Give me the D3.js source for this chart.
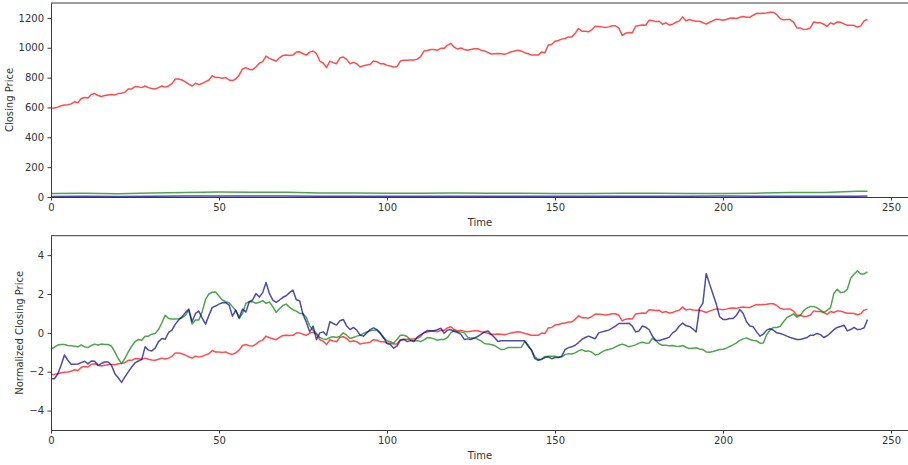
<!DOCTYPE html>
<html>
<head>
<meta charset="utf-8">
<script src="https://cdn.jsdelivr.net/npm/d3@7"></script>
<style>
  body { margin: 0; background: #fff; }
  svg text { font-family: "DejaVu Sans", sans-serif; }
</style>
</head>
<body>
<div id="chart"></div>
<script>
// DATA (one value per time step 0..243)

// Closing price of the first stock (red, top panel)
var topRed = [
  596, 596, 602, 611, 616, 618, 624, 638, 631, 660,
  667, 664, 687, 693, 680, 673, 680, 684, 687, 684,
  693, 696, 702, 724, 724, 740, 738, 733, 744, 733,
  727, 724, 733, 744, 736, 744, 760, 791, 791, 784,
  771, 756, 744, 762, 753, 760, 773, 784, 813, 800,
  800, 796, 800, 784, 780, 791, 816, 858, 867, 856,
  853, 871, 896, 907, 944, 929, 920, 911, 933, 949,
  951, 949, 951, 971, 973, 960, 951, 971, 978, 962,
  911, 898, 867, 911, 900, 893, 933, 938, 922, 893,
  902, 893, 871, 880, 884, 889, 911, 907, 893, 893,
  882, 878, 871, 873, 911, 916, 916, 918, 918, 924,
  940, 978, 982, 989, 989, 984, 996, 996, 1018, 1029,
  1004, 991, 998, 989, 984, 989, 993, 993, 984, 978,
  969, 958, 960, 962, 960, 956, 964, 973, 978, 984,
  978, 967, 960, 951, 951, 951, 971, 967, 1018, 1022,
  1044, 1049, 1058, 1062, 1073, 1073, 1096, 1129, 1111, 1111,
  1107, 1122, 1144, 1142, 1140, 1136, 1140, 1147, 1147, 1133,
  1082, 1098, 1102, 1100, 1144, 1149, 1153, 1151, 1184, 1182,
  1176, 1178, 1158, 1167, 1153, 1158, 1171, 1180, 1207, 1180,
  1189, 1182, 1178, 1178, 1169, 1158, 1171, 1182, 1191, 1189,
  1184, 1189, 1198, 1200, 1196, 1204, 1209, 1204, 1204, 1218,
  1231, 1229, 1231, 1233, 1238, 1238, 1222, 1196, 1187, 1189,
  1189, 1171, 1133, 1133, 1122, 1124, 1133, 1173, 1167, 1167,
  1158, 1142, 1167, 1158, 1173, 1171, 1160, 1151, 1151, 1149,
  1138, 1147, 1180, 1189
];

// Normalized closing price of the second stock (green, bottom panel)
var normGreen = [
  -0.83, -0.74, -0.63, -0.60, -0.60, -0.65, -0.67, -0.69, -0.72, -0.62,
  -0.72, -0.76, -0.65, -0.58, -0.63, -0.58, -0.60, -0.60, -0.69, -0.98,
  -1.32, -1.58, -1.32, -0.98, -0.69, -0.46, -0.34, -0.38, -0.17, -0.17,
  -0.07, -0.03, 0.17, 0.52, 0.91, 0.74, 0.71, 0.71, 0.73, 0.78,
  0.90, 1.17, 0.45, 0.66, 0.66, 1.09, 1.72, 2.00, 2.09, 2.10,
  1.90, 1.69, 1.60, 1.55, 1.35, 1.14, 0.74, 1.00, 1.52, 1.60,
  1.60, 1.52, 1.57, 1.66, 1.52, 1.59, 1.35, 1.05, 1.24, 1.41,
  1.48, 1.31, 1.19, 1.12, 1.00, 1.00, 0.79, 0.36, 0.14, -0.03,
  -0.24, -0.31, -0.34, -0.24, -0.20, -0.24, -0.17, 0.00, -0.12, -0.29,
  -0.24, -0.17, -0.12, -0.03, 0.05, 0.11, 0.14, 0.14, -0.05, -0.26,
  -0.41, -0.46, -0.53, -0.33, -0.12, -0.12, -0.19, -0.38, -0.41, -0.40,
  -0.45, -0.36, -0.24, -0.26, -0.31, -0.38, -0.34, -0.34, -0.24, 0.00,
  0.14, 0.05, 0.05, 0.00, -0.22, -0.27, -0.26, -0.33, -0.41, -0.55,
  -0.58, -0.60, -0.65, -0.76, -0.86, -0.84, -0.76, -0.76, -0.76, -0.76,
  -0.74, -0.45, -0.63, -0.89, -1.24, -1.37, -1.34, -1.22, -1.20, -1.20,
  -1.20, -1.26, -1.24, -1.12, -1.07, -1.09, -1.03, -0.93, -0.86, -0.95,
  -0.93, -1.00, -1.14, -1.10, -0.98, -0.89, -0.86, -0.81, -0.72, -0.64,
  -0.58, -0.64, -0.72, -0.67, -0.62, -0.53, -0.48, -0.53, -0.52, -0.28,
  -0.41, -0.57, -0.64, -0.64, -0.67, -0.65, -0.69, -0.70, -0.65, -0.74,
  -0.81, -0.79, -0.77, -0.83, -0.86, -0.98, -1.00, -0.96, -0.91, -0.86,
  -0.84, -0.79, -0.70, -0.62, -0.52, -0.39, -0.31, -0.26, -0.34, -0.39,
  -0.41, -0.53, -0.52, -0.10, 0.14, 0.28, 0.28, 0.33, 0.57, 0.78,
  0.88, 0.98, 0.81, 0.90, 1.14, 1.28, 1.35, 1.35, 1.29, 1.17,
  1.05, 1.16, 1.30, 2.03, 2.24, 2.07, 2.10, 2.24, 2.81, 3.02,
  3.19, 3.03, 3.03, 3.14
];

// Normalized closing price of the third stock (blue, bottom panel)
var normBlue = [
  -2.36, -2.36, -2.12, -1.67, -1.14, -1.41, -1.62, -1.62, -1.60, -1.53,
  -1.46, -1.60, -1.45, -1.46, -1.67, -1.58, -1.50, -1.50, -1.67, -2.10,
  -2.31, -2.55, -2.27, -2.01, -1.76, -1.55, -1.45, -1.38, -0.72, -0.89,
  -0.93, -0.79, -0.45, -0.29, -0.33, 0.02, 0.14, 0.45, 0.66, 0.83,
  1.04, 1.22, 0.57, 1.00, 1.12, 0.76, 0.45, 0.90, 1.31, 1.38,
  1.48, 1.55, 1.55, 1.43, 0.86, 1.17, 0.78, 1.22, 1.07, 1.60,
  1.69, 2.02, 1.84, 2.07, 2.59, 2.03, 1.69, 1.57, 1.69, 1.83,
  1.91, 2.07, 2.20, 1.70, 1.65, 0.95, 0.55, 0.05, 0.35, -0.35,
  0.00, 0.05, -0.12, 0.57, 0.48, 0.40, 0.62, 0.69, 0.35, 0.17,
  0.28, 0.14, -0.12, -0.17, 0.00, 0.17, 0.26, 0.17, 0.00, -0.24,
  -0.55, -0.60, -0.79, -0.67, -0.38, -0.34, -0.45, -0.40, -0.45, -0.22,
  -0.10, 0.00, 0.12, 0.11, 0.11, 0.16, 0.24, -0.02, 0.14, 0.17,
  0.07, 0.02, -0.08, -0.34, -0.31, -0.34, -0.26, -0.19, -0.07, 0.04,
  0.10, -0.07, -0.24, -0.45, -0.41, -0.41, -0.41, -0.41, -0.41, -0.41,
  -0.41, -0.41, -0.69, -0.88, -1.33, -1.41, -1.37, -1.27, -1.24, -1.33,
  -1.27, -1.27, -1.20, -0.86, -0.76, -0.72, -0.64, -0.50, -0.34, -0.24,
  -0.17, -0.24, -0.30, 0.00, 0.05, 0.10, 0.14, 0.24, 0.35, 0.48,
  0.48, 0.48, 0.50, 0.35, 0.05, 0.10, 0.35, 0.29, 0.16, -0.17,
  -0.38, -0.39, -0.34, -0.29, -0.22, 0.00, 0.12, 0.35, 0.50, 0.36,
  0.33, 0.21, 0.04, 1.26, 1.52, 3.05, 2.52, 2.00, 1.48, 0.83,
  0.69, 0.69, 0.74, 0.74, 0.90, 1.20, 1.00, 0.57, 0.35, 0.31,
  0.05, -0.17, -0.07, 0.14, 0.21, 0.14, 0.00, -0.03, -0.09, -0.17,
  -0.24, -0.29, -0.34, -0.34, -0.29, -0.24, -0.12, -0.12, -0.03, -0.09,
  -0.24, -0.15, 0.00, 0.16, 0.28, 0.33, 0.40, 0.10, 0.17, 0.28,
  0.17, 0.19, 0.26, 0.68
];

// The raw prices of the green and blue stocks are squeezed against 0 in the
// top panel, so they are only read every 10 steps
var coarseTime = [0, 10, 20, 30, 40, 50, 60, 70, 80, 90, 100, 110, 120,
                  130, 140, 150, 160, 170, 180, 190, 200, 210, 220, 230, 240, 243];
var topGreen = [24.1, 24.5, 22.4, 26.8, 30.2, 33.7, 32.6, 32.2, 26.2, 26.2, 25.6, 25.4, 27.5,
                25.0, 24.4, 22.8, 23.7, 25.0, 25.6, 24.2, 24.1, 25.6, 30.1, 30.9, 38.2, 38.0];
var topBlue  = [4.1, 4.6, 4.1, 4.9, 6.1, 6.4, 6.5, 6.6, 5.5, 5.7, 5.2, 5.4, 5.5,
                5.6, 5.3, 4.7, 5.4, 5.8, 5.3, 5.7, 5.9, 5.5, 5.4, 5.4, 5.6, 5.9];

// Tick values
var xTicks = [0, 50, 100, 150, 200, 250];
var topYTicks = [0, 200, 400, 600, 800, 1000, 1200];
var bottomYTicks = [-4, -2, 0, 2, 4];

// The bottom red line is the z-score of the top red series (pandas style std)
var redMean = d3.mean(topRed), redSd = d3.deviation(topRed);
var normRed = topRed.map(v => (v - redMean) / redSd);

// Colors (matplotlib r / g / darkblue with alpha 0.7)
var colors = { red: "#ff0000", green: "#008000", blue: "#00008b" };

// CHART
var width = 908, height = 465;
var svg = d3.select("#chart")
  .append("svg")
    .attr("width", width)
    .attr("height", height);

var x = d3.scaleLinear().domain([0, 255]).range([51, 907.8]);

// Draws one panel: spines, ticks, labels and its three lines
function drawPanel(y, yTicks, yLabel, ylabelX, timeY, series) {
  var top = y.range()[1], bottom = y.range()[0];
  var g = svg.append("g");

  // lines (red, green, blue in that order)
  series.forEach(function(s) {
    var line = d3.line()
      .x((d, i) => x(s.time ? s.time[i] : i))
      .y(d => y(d));
    g.append("path")
      .datum(s.values)
      .attr("fill", "none")
      .attr("stroke", s.color)
      .attr("stroke-opacity", 0.7)
      .attr("stroke-width", 1.5)
      .attr("stroke-linejoin", "round")
      .attr("d", line);
  });

  // axes (no thousands separator, unicode minus like matplotlib)
  var fmt = d3.format("d");
  var xAxis = d3.axisBottom(x).tickValues(xTicks).tickFormat(fmt)
    .tickSize(3.5).tickPadding(3.5).tickSizeOuter(0);
  var yAxis = d3.axisLeft(y).tickValues(yTicks).tickFormat(fmt)
    .tickSize(3.5).tickPadding(3.5).tickSizeOuter(0);

  var gx = g.append("g").attr("transform", "translate(0," + bottom + ")").call(xAxis);
  var gy = g.append("g").attr("transform", "translate(51,0)").call(yAxis);

  [gx, gy].forEach(function(a) {
    a.selectAll("path, line").attr("stroke", "#3a3a3a").attr("stroke-width", 1);
    a.selectAll("text").attr("fill", "#333").style("font-size", "10px");
  });

  // top spine (the right one falls outside the picture)
  g.append("line")
    .attr("x1", 51).attr("x2", width)
    .attr("y1", top).attr("y2", top)
    .attr("stroke", "#3a3a3a");

  // axis titles
  g.append("text")
    .attr("x", 480).attr("y", timeY)
    .attr("text-anchor", "middle")
    .attr("fill", "#333")
    .style("font-size", "10px")
    .text("Time");

  g.append("text")
    .attr("transform", "translate(" + ylabelX + "," + ((top + bottom) / 2) + ") rotate(-90)")
    .attr("text-anchor", "middle")
    .attr("fill", "#333")
    .style("font-size", "10px")
    .text(yLabel);
}

var yTop = d3.scaleLinear().domain([0, 1300]).range([197, 3]);
var yBottom = d3.scaleLinear().domain([-5, 5]).range([430, 235.7]);

drawPanel(yTop, topYTicks, "Closing Price", 13, 225.5, [
  { values: topRed, color: colors.red },
  { values: topGreen, time: coarseTime, color: colors.green },
  { values: topBlue, time: coarseTime, color: colors.blue }
]);

drawPanel(yBottom, bottomYTicks, "Normalized Closing Price", 22.5, 459, [
  { values: normRed, color: colors.red },
  { values: normGreen, color: colors.green },
  { values: normBlue, color: colors.blue }
]);
</script>
</body>
</html>
